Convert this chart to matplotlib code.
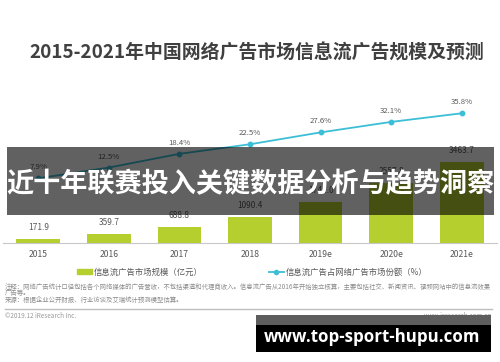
import matplotlib.pyplot as plt
from matplotlib.patches import Rectangle
from matplotlib.lines import Line2D

plt.rcParams['font.family'] = ['Noto Sans CJK SC', 'DejaVu Sans']

# data
years = ["2015", "2016", "2017", "2018", "2019e", "2020e", "2021e"]
scale = [171.9, 359.7, 688.8, 1090.4, 1741.0, 2557.8, 3463.7]
share = [7.9, 12.5, 18.4, 22.5, 27.6, 32.1, 35.8]

title = "2015-2021年中国网络广告市场信息流广告规模及预测"
banner = "近十年联赛投入关键数据分析与趋势洞察"
note1 = "注释：网络广告统计口径包括各个网络媒体的广告营收，不包括渠道和代理商收入。信息流广告从2016年开始独立核算，主要包括社交、新闻资讯、视频网站中的信息流效果"
note2 = "广告等。"
source = "来源：根据企业公开财报、行业访谈及艾瑞统计预测模型估算。"

green = "#b4cf2e"
cyan = "#3cbfd6"
gray = "#595959"

W, H = 500, 362
fig = plt.figure(figsize=(5, 3.62), dpi=100)


def fx(x):
    return x / W


def fy(y):
    return 1 - y / H


base_y = 242.7
top_y = 90
ax = fig.add_axes([fx(3), fy(base_y), fx(494), (base_y - top_y) / H])
x = list(range(len(years)))
bars = ax.bar(x, scale, width=0.62, color=green, zorder=2)
ax.set_xlim(-0.5, 6.5)
ax.set_ylim(0, (base_y - top_y) / (80.7 / 3463.7))
for xi, v in zip(x, scale):
    ax.annotate(f"{v:.1f}", (xi, v), xytext=(0, 5), textcoords="offset points",
                ha="center", va="bottom", fontsize=6, color=gray)
ax.set_xticks(x)
ax.set_xticklabels(years, fontsize=6.2, color=gray)
ax.tick_params(axis="x", length=0, pad=5)
ax.set_yticks([])
for s in ["top", "left", "right"]:
    ax.spines[s].set_visible(False)
ax.spines["bottom"].set_color("#c8c8c8")
ax.spines["bottom"].set_linewidth(0.8)
ax.patch.set_alpha(0)

ax2 = ax.twinx()
ax2.set_ylim(-(base_y - 196.7) / 2.33, (196.7 - top_y) / 2.33)
ax2.plot(x, share, color=cyan, lw=1.3, marker="o", ms=3.2, zorder=3)
for xi, v in zip(x, share):
    ax2.annotate(f"{v}%", (xi, v), xytext=(0, 5), textcoords="offset points",
                 ha="center", va="bottom", fontsize=5.6, color=gray)
ax2.axis("off")

# title
fig.text(fx(257), fy(53), title, ha="center", va="center", fontsize=13.6,
         fontweight="bold", color="#404040")

# legend
handles = [Rectangle((0, 0), 1, 1, color=green),
           Line2D([0], [0], color=cyan, lw=1.3, marker="o", ms=3)]
labels = ["信息流广告市场规模（亿元）", "信息流广告占网络广告市场份额（%）"]
fig.legend(handles, labels, loc="center", bbox_to_anchor=(fx(252), fy(272)),
           ncol=2, frameon=False, fontsize=6, labelcolor=gray,
           handlelength=1.8, handleheight=0.6, columnspacing=8, handletextpad=0.2)

# notes
fig.text(fx(5), fy(287), note1, fontsize=4.6, color="#8c8c8c", va="center")
fig.text(fx(5), fy(293.5), note2, fontsize=4.6, color="#8c8c8c", va="center")
fig.text(fx(5), fy(300), source, fontsize=4.6, color="#8c8c8c", va="center")
fig.add_artist(Line2D([fx(5), fx(492)], [fy(309), fy(309)], color="#bdbdbd", lw=1))
fig.text(fx(5), fy(316), "©2019.12 iResearch Inc.", fontsize=4.6, color="#9a9a9a", va="center")
fig.text(fx(492), fy(316), "www.iresearch.com.cn", fontsize=4.6, color="#9a9a9a",
         va="center", ha="right")

# banner overlay
fig.add_artist(Rectangle((fx(7), fy(215)), fx(487), (215 - 147) / H,
                         transform=fig.transFigure, color="black", alpha=0.62,
                         lw=0, zorder=5))
fig.text(fx(250), fy(184), banner, ha="center", va="center", fontsize=19.5,
         fontweight="bold", color="white", zorder=6)

# watermark
fig.add_artist(Rectangle((fx(256), fy(325)), fx(235), 10 / H,
                         transform=fig.transFigure, color="#5e5e5e", lw=0, zorder=5))
fig.add_artist(Rectangle((fx(256), fy(352)), fx(235), 27 / H,
                         transform=fig.transFigure, color="black", lw=0, zorder=5))
fig.text(fx(372.5), fy(337), "www.top-sport-hupu.com", ha="center", va="center",
         fontsize=12.2, fontweight="bold", color="white", family="Open Sans", zorder=6)

fig.savefig("out.png", dpi=100)
